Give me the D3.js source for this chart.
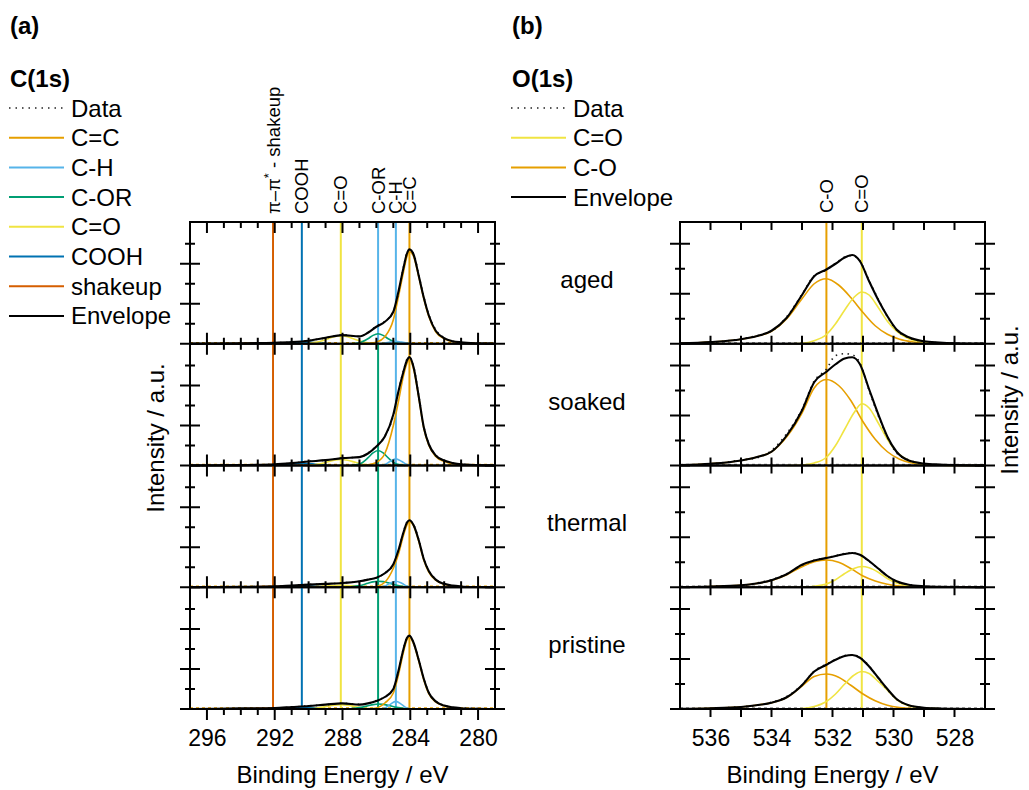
<!DOCTYPE html>
<html>
<head>
<meta charset="utf-8">
<script src="https://cdn.jsdelivr.net/npm/d3@7"></script>
<style>
  body { margin: 0; background: #fff; }
  text { font-family: "Liberation Sans", Arial, sans-serif; fill: #000; }
</style>
</head>
<body>
<svg id="chart" width="1029" height="790"></svg>
<script>
var samples = ["aged", "soaked", "thermal", "pristine"];

// ---- C(1s) ----
var cNames = ["C=C", "C-H", "C-OR", "C=O", "COOH", "shakeup"];
var cCenters = [284.05, 284.85, 285.9, 288.1, 290.4, 292.1];
var cTopLabels = ["C=C", "C-H", "C-OR", "C=O", "COOH", "shakeup"];

var cEnvE = [297, 294, 292, 291, 290, 289, 288, 287, 286.5, 286, 285.5, 285, 284.7, 284.4, 284.2, 284.05, 283.8, 283.5, 283.2, 282.9, 282.5, 282, 281.5, 281, 280, 279];
var cEnvelope = [
  [0.0, 0.02, 0.05, 0.08, 0.15, 0.3, 0.43, 0.37, 0.55, 0.85, 1.1, 1.6, 2.6, 3.8, 4.5, 4.72, 4.45, 3.4, 2.3, 1.4, 0.65, 0.28, 0.13, 0.07, 0.02, 0.0],
  [0.0, 0.02, 0.06, 0.12, 0.2, 0.27, 0.37, 0.42, 0.6, 0.95, 1.45, 2.55, 3.7, 4.7, 5.25, 5.42, 4.9, 3.45, 1.9, 1.05, 0.5, 0.25, 0.13, 0.06, 0.02, 0.0],
  [0.0, 0.02, 0.05, 0.09, 0.13, 0.17, 0.21, 0.3, 0.38, 0.48, 0.7, 1.15, 1.85, 2.75, 3.22, 3.35, 3.1, 2.35, 1.4, 0.8, 0.38, 0.17, 0.08, 0.04, 0.01, 0.0],
  [0.0, 0.03, 0.05, 0.1, 0.15, 0.22, 0.28, 0.22, 0.28, 0.4, 0.6, 1.0, 1.9, 3.0, 3.55, 3.67, 3.3, 2.45, 1.5, 0.8, 0.38, 0.17, 0.08, 0.04, 0.01, 0.0]
];
var cData = [
  [0.01, 0.0, 0.06, 0.07, 0.16, 0.29, 0.45, 0.36, 0.57, 0.88, 1.12, 1.62, 2.55, 3.85, 4.55, 4.7, 4.5, 3.45, 2.35, 1.45, 0.7, 0.3, 0.12, 0.06, 0.03, 0.01],
  [0.0, 0.03, 0.05, 0.12, 0.21, 0.26, 0.38, 0.41, 0.62, 0.97, 1.47, 2.5, 3.72, 4.75, 5.3, 5.4, 4.95, 3.5, 1.95, 1.07, 0.52, 0.24, 0.12, 0.07, 0.02, 0.01],
  [0.0, 0.0, 0.03, 0.08, 0.14, 0.16, 0.22, 0.29, 0.39, 0.47, 0.71, 1.17, 1.83, 2.78, 3.25, 3.33, 3.12, 2.38, 1.42, 0.82, 0.4, 0.16, 0.09, 0.04, 0.0, 0.01],
  [0.0, 0.02, 0.04, 0.09, 0.16, 0.21, 0.29, 0.23, 0.27, 0.42, 0.61, 1.02, 1.88, 3.03, 3.57, 3.65, 3.32, 2.47, 1.52, 0.82, 0.4, 0.18, 0.07, 0.05, 0.02, 0.0]
];

var ccE = [287, 286.5, 286, 285.5, 285, 284.7, 284.4, 284.2, 284.05, 283.8, 283.5, 283.2, 282.9, 282.5, 282, 281.5, 281, 280];
var ccVals = [
  [0.0, 0.02, 0.08, 0.35, 1.2, 2.35, 3.6, 4.35, 4.6, 4.35, 3.35, 2.25, 1.35, 0.6, 0.25, 0.1, 0.04, 0.0],
  [0.0, 0.03, 0.15, 0.6, 2.0, 3.2, 4.5, 5.1, 5.3, 4.8, 3.4, 1.85, 1.0, 0.45, 0.2, 0.08, 0.03, 0.0],
  [0.0, 0.01, 0.04, 0.25, 0.95, 1.65, 2.6, 3.1, 3.28, 3.05, 2.3, 1.35, 0.75, 0.35, 0.15, 0.06, 0.02, 0.0],
  [0.0, 0.01, 0.05, 0.3, 0.8, 1.7, 2.85, 3.45, 3.6, 3.25, 2.4, 1.45, 0.75, 0.35, 0.15, 0.06, 0.02, 0.0]
];
var chE = [285.8, 285.5, 285.2, 284.85, 284.5, 284.2, 283.9];
var chVals = [
  [0, 0.03, 0.08, 0.12, 0.08, 0.03, 0],
  [0, 0.05, 0.2, 0.33, 0.2, 0.05, 0],
  [0, 0.06, 0.2, 0.3, 0.2, 0.06, 0],
  [0, 0.05, 0.22, 0.38, 0.22, 0.05, 0]
];
var corE = [287.5, 287, 286.5, 286.2, 285.9, 285.6, 285.3, 284.8, 284.3];
var corVals = [
  [0, 0.05, 0.25, 0.42, 0.5, 0.42, 0.25, 0.05, 0],
  [0, 0.07, 0.38, 0.63, 0.75, 0.63, 0.38, 0.07, 0],
  [0.02, 0.08, 0.2, 0.27, 0.3, 0.28, 0.22, 0.1, 0.02],
  [0.02, 0.07, 0.16, 0.22, 0.25, 0.23, 0.18, 0.08, 0.02]
];
var coE = [290, 289.5, 289, 288.5, 288.1, 287.7, 287.2, 286.7, 286.2];
var coVals = [
  [0.02, 0.08, 0.2, 0.35, 0.4, 0.35, 0.2, 0.07, 0.01],
  [0.02, 0.06, 0.15, 0.26, 0.3, 0.26, 0.15, 0.05, 0.01],
  [0.01, 0.03, 0.06, 0.09, 0.1, 0.09, 0.06, 0.03, 0.01],
  [0.01, 0.05, 0.12, 0.19, 0.22, 0.19, 0.11, 0.04, 0.01]
];
var coohE = [292, 291.5, 291, 290.4, 289.8, 289.3, 288.8];
var coohVals = [
  [0, 0.03, 0.07, 0.09, 0.07, 0.03, 0],
  [0, 0.04, 0.08, 0.11, 0.08, 0.04, 0],
  [0, 0.03, 0.06, 0.08, 0.06, 0.03, 0],
  [0, 0.03, 0.07, 0.09, 0.07, 0.03, 0]
];
var shakeE = [295, 294, 293, 292.1, 291.2, 290.2, 289.2];
var shakeVals = [
  [0, 0.01, 0.03, 0.04, 0.03, 0.01, 0],
  [0, 0.01, 0.03, 0.04, 0.03, 0.01, 0],
  [0, 0.01, 0.03, 0.04, 0.03, 0.01, 0],
  [0, 0.01, 0.03, 0.04, 0.03, 0.01, 0]
];

// ---- O(1s) ----
var oNames = ["C=O", "C-O"];
var oCenters = [531.04, 532.2];

var oEnvE = [537, 536, 535, 534.5, 534, 533.5, 533, 532.6, 532.2, 531.9, 531.6, 531.35, 531.1, 530.8, 530.5, 530.2, 529.9, 529.5, 529, 528.5, 528, 527];
var oEnvelope = [
  [0.02, 0.07, 0.18, 0.3, 0.52, 1.04, 1.95, 2.7, 2.97, 3.2, 3.45, 3.55, 3.3, 2.5, 1.75, 1.1, 0.57, 0.26, 0.1, 0.05, 0.02, 0.0],
  [0.02, 0.07, 0.2, 0.33, 0.55, 1.2, 2.2, 3.33, 3.75, 4.05, 4.28, 4.33, 4.05, 3.05, 2.05, 1.15, 0.55, 0.2, 0.08, 0.04, 0.02, 0.0],
  [0.01, 0.03, 0.08, 0.15, 0.28, 0.52, 0.9, 1.07, 1.17, 1.25, 1.33, 1.37, 1.3, 1.05, 0.75, 0.45, 0.24, 0.1, 0.04, 0.02, 0.01, 0.0],
  [0.01, 0.03, 0.08, 0.15, 0.25, 0.47, 0.95, 1.5, 1.77, 1.97, 2.12, 2.16, 2.05, 1.7, 1.25, 0.8, 0.4, 0.15, 0.05, 0.02, 0.01, 0.0]
];
var oData = [
  [0.01, 0.05, 0.2, 0.32, 0.5, 1.08, 1.98, 2.72, 2.95, 3.22, 3.47, 3.52, 3.32, 2.53, 1.78, 1.08, 0.55, 0.24, 0.09, 0.04, 0.02, 0.0],
  [0.02, 0.06, 0.22, 0.3, 0.6, 1.28, 2.25, 3.38, 3.85, 4.4, 4.47, 4.43, 4.1, 3.0, 2.0, 1.12, 0.5, 0.22, 0.07, 0.03, 0.02, 0.0],
  [0.0, 0.04, 0.07, 0.17, 0.3, 0.54, 0.88, 1.08, 1.19, 1.26, 1.35, 1.38, 1.3, 1.03, 0.76, 0.44, 0.22, 0.11, 0.03, 0.02, 0.0, 0.0],
  [0.0, 0.02, 0.09, 0.14, 0.27, 0.5, 0.97, 1.52, 1.79, 1.98, 2.14, 2.17, 2.06, 1.72, 1.23, 0.78, 0.39, 0.14, 0.05, 0.02, 0.0, 0.0]
];
var ocoE = [537, 536, 535, 534.5, 534, 533.5, 533, 532.6, 532.2, 531.8, 531.4, 531, 530.6, 530.2, 529.8, 529.4, 529, 528, 527];
var ocoVals = [
  [0.02, 0.07, 0.18, 0.3, 0.5, 1.0, 1.8, 2.4, 2.6, 2.35, 1.85, 1.25, 0.72, 0.38, 0.18, 0.08, 0.03, 0.0, 0.0],
  [0.02, 0.07, 0.2, 0.33, 0.55, 1.15, 2.1, 3.1, 3.44, 3.2, 2.6, 1.75, 1.05, 0.55, 0.25, 0.1, 0.04, 0.0, 0.0],
  [0.01, 0.03, 0.08, 0.15, 0.27, 0.5, 0.82, 1.02, 1.09, 1.0, 0.75, 0.45, 0.25, 0.12, 0.05, 0.02, 0.0, 0.0, 0.0],
  [0.01, 0.03, 0.08, 0.15, 0.25, 0.46, 0.92, 1.3, 1.4, 1.27, 0.95, 0.6, 0.33, 0.15, 0.06, 0.02, 0.0, 0.0, 0.0]
];
var odbE = [533.5, 533, 532.6, 532.2, 531.9, 531.6, 531.3, 531.04, 530.8, 530.5, 530.2, 529.9, 529.5, 529, 528.5, 528];
var odbVals = [
  [0, 0.02, 0.12, 0.37, 0.8, 1.35, 1.85, 2.07, 1.95, 1.45, 0.9, 0.5, 0.2, 0.06, 0.02, 0],
  [0, 0.02, 0.1, 0.33, 0.8, 1.45, 2.1, 2.47, 2.3, 1.7, 1.05, 0.55, 0.2, 0.06, 0.02, 0],
  [0, 0.01, 0.04, 0.13, 0.3, 0.55, 0.75, 0.83, 0.78, 0.6, 0.35, 0.17, 0.06, 0.02, 0, 0],
  [0, 0.02, 0.1, 0.3, 0.6, 1.0, 1.35, 1.5, 1.42, 1.1, 0.75, 0.38, 0.13, 0.04, 0.01, 0]
];

// colours
var col = {
  cc: "#E69F00", ch: "#56B4E9", cor: "#009E73", co: "#F0E442",
  cooh: "#0072B2", shake: "#D55E00", env: "#000"
};

var svg = d3.select("#chart");
var top0 = 222, bot = 709;
var ph = (bot - top0) / 4;

function drawSet(s) {
  var x = d3.scaleLinear().domain(s.domain).range([s.left, s.right]);
  var g = svg.append("g");

  samples.forEach(function(name, i) {
    var pt = top0 + i * ph;
    var y = d3.scaleLinear().domain([0, ph / s.unit]).range([pt + ph, pt]);
    var line = d3.line()
      .x(function(d) { return x(d[0]); })
      .y(function(d) { return y(d[1]); })
      .curve(d3.curveMonotoneX);
    var p = g.append("g");

    // background / baseline
    p.append("line")
      .attr("x1", s.left).attr("x2", s.right)
      .attr("y1", y(0) - 1).attr("y2", y(0) - 1)
      .attr("stroke", s.baseColor).attr("stroke-width", 1.5)
      .attr("stroke-dasharray", "3,3");

    // peak position markers
    s.markers.forEach(function(m) {
      p.append("line")
        .attr("x1", x(m.E)).attr("x2", x(m.E))
        .attr("y1", pt).attr("y2", pt + ph)
        .attr("stroke", m.colors[i]).attr("stroke-width", 2);
    });

    // fit components
    s.comps.forEach(function(c) {
      p.append("path")
        .datum(d3.zip(c.E, c.vals[i]))
        .attr("d", line)
        .attr("fill", "none")
        .attr("stroke", c.color)
        .attr("stroke-width", 1.6);
    });

    // measured data
    p.append("path")
      .datum(d3.zip(s.envE, s.data[i]))
      .attr("d", line)
      .attr("fill", "none")
      .attr("stroke", "#222")
      .attr("stroke-width", 1.6)
      .attr("stroke-dasharray", "1.5,4.5");

    // envelope
    p.append("path")
      .datum(d3.zip(s.envE, s.env[i]))
      .attr("d", line)
      .attr("fill", "none")
      .attr("stroke", col.env)
      .attr("stroke-width", 2.1);

    // frame
    p.append("rect")
      .attr("x", s.left).attr("y", pt)
      .attr("width", s.right - s.left).attr("height", ph)
      .attr("fill", "none").attr("stroke", "#000").attr("stroke-width", 2);

    // y ticks crossing both side frames
    d3.range(0, s.nY + 1).forEach(function(v) {
      var len = (v % 2 === 0) ? 10 : 5;
      [s.left, s.right].forEach(function(fx) {
        p.append("line")
          .attr("x1", fx - len).attr("x2", fx + len)
          .attr("y1", y(v)).attr("y2", y(v))
          .attr("stroke", "#000").attr("stroke-width", 2);
      });
    });

    // x ticks: inside at top, inside at bottom (outside for last panel)
    s.xTicks.forEach(function(v) {
      var len = s.isMajor(v) ? s.majorLen : s.minorLen;
      p.append("line")
        .attr("x1", x(v)).attr("x2", x(v))
        .attr("y1", pt).attr("y2", pt + len)
        .attr("stroke", "#000").attr("stroke-width", 2);
      var yb = pt + ph;
      p.append("line")
        .attr("x1", x(v)).attr("x2", x(v))
        .attr("y1", yb).attr("y2", i === 3 ? yb + len : yb - len)
        .attr("stroke", "#000").attr("stroke-width", 2);
    });

    if (s.sampleX) {
      g.append("text")
        .attr("x", s.sampleX).attr("y", pt + ph / 2 + 5)
        .attr("text-anchor", "middle")
        .style("font-size", "24px")
        .text(name);
    }
  });

  // tick labels
  var ax = g.append("g")
    .attr("transform", "translate(0," + bot + ")")
    .call(d3.axisBottom(x).tickValues(s.labelTicks).tickSize(0).tickPadding(21).tickFormat(d3.format("d")));
  ax.select(".domain").remove();
  ax.selectAll("text").style("font-size", "23px").style("font-family", '"Liberation Sans", Arial, sans-serif');

  g.append("text")
    .attr("x", (s.left + s.right) / 2).attr("y", 783)
    .attr("text-anchor", "middle")
    .style("font-size", "24px")
    .text("Binding Energy / eV");

  // rotated labels above the frame
  s.markers.forEach(function(m) {
    var t = g.append("text")
      .attr("transform", "translate(" + (x(m.E) + 6.5) + "," + s.labelBottom + ") rotate(-90)")
      .style("font-size", "18.5px");
    if (m.label === "shakeup") {
      t.append("tspan").text("π–π");
      t.append("tspan").attr("dy", -7).style("font-size", "13px").text("*");
      t.append("tspan").attr("dy", 7).text(" - shakeup");
    } else {
      t.text(m.label);
    }
  });
}

function legend(x0, title, y0, items) {
  var g = svg.append("g");
  g.append("text").attr("x", x0).attr("y", y0)
    .style("font-size", "24px").style("font-weight", "bold").text(title);
  items.forEach(function(it, k) {
    var cy = y0 + 21 + k * 29.7;
    g.append("line")
      .attr("x1", x0 - 1).attr("x2", x0 + 54)
      .attr("y1", cy).attr("y2", cy)
      .attr("stroke", it.color)
      .attr("stroke-width", it.dotted ? 1.6 : 2)
      .attr("stroke-dasharray", it.dotted ? "1.5,5" : null);
    g.append("text").attr("x", x0 + 61).attr("y", cy + 8.5)
      .style("font-size", "24px").text(it.name);
  });
}

// ---------- panel (a) ----------
var cColorByName = { "C=C": col.cc, "C-H": col.ch, "C-OR": col.cor, "C=O": col.co, "COOH": col.cooh, "shakeup": col.shake };
drawSet({
  domain: [297, 279], left: 190, right: 495, unit: 20, nY: 5,
  baseColor: col.cc,
  envE: cEnvE, env: cEnvelope, data: cData,
  comps: [
    { E: shakeE, vals: shakeVals, color: col.shake },
    { E: coohE, vals: coohVals, color: col.cooh },
    { E: coE, vals: coVals, color: col.co },
    { E: corE, vals: corVals, color: col.cor },
    { E: chE, vals: chVals, color: col.ch },
    { E: ccE, vals: ccVals, color: col.cc }
  ],
  markers: cNames.map(function(n, k) {
    var c = cColorByName[n];
    // the C-OR marker of the aged sample is drawn in the C-H colour in the original
    var colors = samples.map(function(sn, i) { return (n === "C-OR" && i === 0) ? col.ch : c; });
    return { E: cCenters[k], label: cTopLabels[k], colors: colors };
  }),
  labelBottom: 214,
  xTicks: d3.range(280, 297),
  isMajor: function(v) { return (296 - v) % 4 === 0; },
  majorLen: 11, minorLen: 6,
  labelTicks: [296, 292, 288, 284, 280]
});

// ---------- panel (b) ----------
drawSet({
  domain: [537, 527], left: 680, right: 985, unit: 25, nY: 4,
  baseColor: "#888",
  envE: oEnvE, env: oEnvelope, data: oData,
  comps: [
    { E: ocoE, vals: ocoVals, color: col.cc },
    { E: odbE, vals: odbVals, color: col.co }
  ],
  markers: [
    { E: oCenters[1], label: oNames[1], colors: samples.map(function() { return col.cc; }) },
    { E: oCenters[0], label: oNames[0], colors: samples.map(function() { return col.co; }) }
  ],
  labelBottom: 213,
  xTicks: d3.range(528, 537),
  isMajor: function() { return true; },
  majorLen: 8, minorLen: 8,
  labelTicks: [536, 534, 532, 530, 528],
  sampleX: 587
});

// legends and panel letters
svg.append("text").attr("x", 10).attr("y", 34).style("font-size", "24px").style("font-weight", "bold").text("(a)");
svg.append("text").attr("x", 512).attr("y", 34).style("font-size", "24px").style("font-weight", "bold").text("(b)");

legend(10, "C(1s)", 87, [
  { name: "Data", color: "#222", dotted: true },
  { name: "C=C", color: col.cc },
  { name: "C-H", color: col.ch },
  { name: "C-OR", color: col.cor },
  { name: "C=O", color: col.co },
  { name: "COOH", color: col.cooh },
  { name: "shakeup", color: col.shake },
  { name: "Envelope", color: "#000" }
]);
legend(512, "O(1s)", 87, [
  { name: "Data", color: "#222", dotted: true },
  { name: "C=O", color: col.co },
  { name: "C-O", color: col.cc },
  { name: "Envelope", color: "#000" }
]);

// y axis titles
svg.append("text")
  .attr("transform", "translate(163.5,438) rotate(-90)")
  .attr("text-anchor", "middle")
  .style("font-size", "24px")
  .text("Intensity / a.u.");
svg.append("text")
  .attr("transform", "translate(1018,400) rotate(-90)")
  .attr("text-anchor", "middle")
  .style("font-size", "24px")
  .text("Intensity / a.u.");
</script>
</body>
</html>
